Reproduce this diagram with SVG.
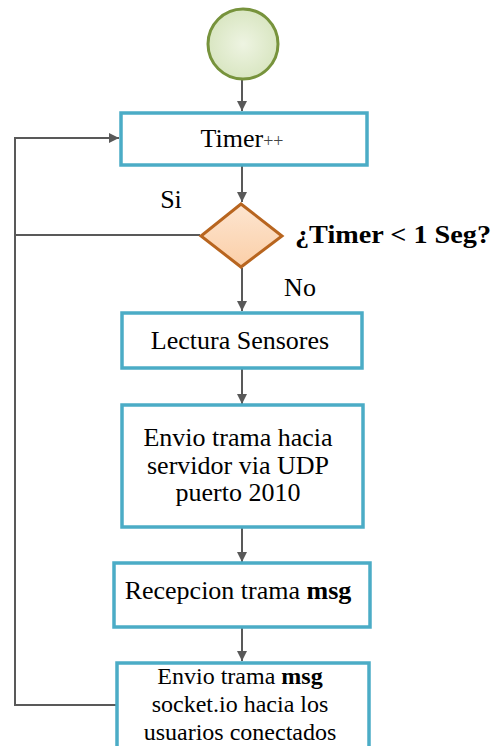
<svg xmlns="http://www.w3.org/2000/svg" width="494" height="746" viewBox="0 0 494 746">
<style>
.box{fill:#ffffff;stroke:#4bacc6;stroke-width:3.5}
.t{font-family:"Liberation Serif","Times New Roman",serif;font-size:26px;fill:#000;text-anchor:middle}
.s{font-size:24px}
.b{font-weight:bold}
.c{fill:none;stroke:#595959;stroke-width:2}
</style>
<defs>
<marker id="ah" viewBox="0 0 10 10" refX="10" refY="5" markerWidth="10" markerHeight="10" markerUnits="userSpaceOnUse" orient="auto">
<path d="M0,0 L10,5 L0,10 Z" fill="#595959"/>
</marker>
<linearGradient id="dg" x1="0" y1="0" x2="0" y2="1">
<stop offset="0" stop-color="#fde5d0"/>
<stop offset="1" stop-color="#fbcfa8"/>
</linearGradient>
<radialGradient id="cg">
<stop offset="0" stop-color="#eef4e2"/>
<stop offset="1" stop-color="#d9e6c2"/>
</radialGradient>
</defs>
<g id="connectors">
<line class="c" x1="242" y1="80" x2="242" y2="111" marker-end="url(#ah)"/>
<line class="c" x1="242" y1="166" x2="242" y2="202" marker-end="url(#ah)"/>
<line class="c" x1="242" y1="268" x2="242" y2="311" marker-end="url(#ah)"/>
<line class="c" x1="242" y1="369" x2="242" y2="404" marker-end="url(#ah)"/>
<line class="c" x1="242" y1="528" x2="242" y2="562" marker-end="url(#ah)"/>
<line class="c" x1="242" y1="628" x2="242" y2="661" marker-end="url(#ah)"/>
<polyline class="c" points="200,235 15,235"/>
<polyline class="c" points="116,705 15,705 15,138 119,138" marker-end="url(#ah)"/>
</g>
<g id="start">
<circle cx="243" cy="44" r="35" fill="url(#cg)" stroke="#77933c" stroke-width="3"/>
</g>
<g id="timer">
<rect class="box" x="121" y="113" width="246" height="52"/>
<text class="t" x="242" y="147">Timer<tspan font-size="18" fill="#444">++</tspan></text>
</g>
<g id="decision">
<polygon points="241,204 282,236 241,267 201,236" fill="url(#dg)" stroke="#b8651f" stroke-width="3"/>
<text class="t b" x="295" y="243" font-size="24" textLength="196" lengthAdjust="spacingAndGlyphs" style="text-anchor:start">¿Timer &lt; 1 Seg?</text>
<text class="t" x="171" y="208">Si</text>
<text class="t" x="300" y="296">No</text>
</g>
<g id="lectura">
<rect class="box" x="122" y="313" width="240" height="55"/>
<text class="t" x="240" y="349">Lectura Sensores</text>
</g>
<g id="envio">
<rect class="box" x="122" y="405" width="241" height="122"/>
<text class="t" x="238" y="446">Envio trama hacia</text>
<text class="t" x="238" y="474">servidor via UDP</text>
<text class="t" x="238" y="501">puerto 2010</text>
</g>
<g id="recepcion">
<rect class="box" x="114" y="563" width="256" height="64"/>
<text class="t" x="238" y="599">Recepcion trama <tspan class="b">msg</tspan></text>
</g>
<g id="envio2">
<rect class="box" x="117" y="663" width="252" height="100"/>
<text class="t s" x="240" y="684">Envio trama <tspan class="b">msg</tspan></text>
<text class="t s" x="240" y="712">socket.io hacia los</text>
<text class="t s" x="240" y="740">usuarios conectados</text>
</g>
</svg>
